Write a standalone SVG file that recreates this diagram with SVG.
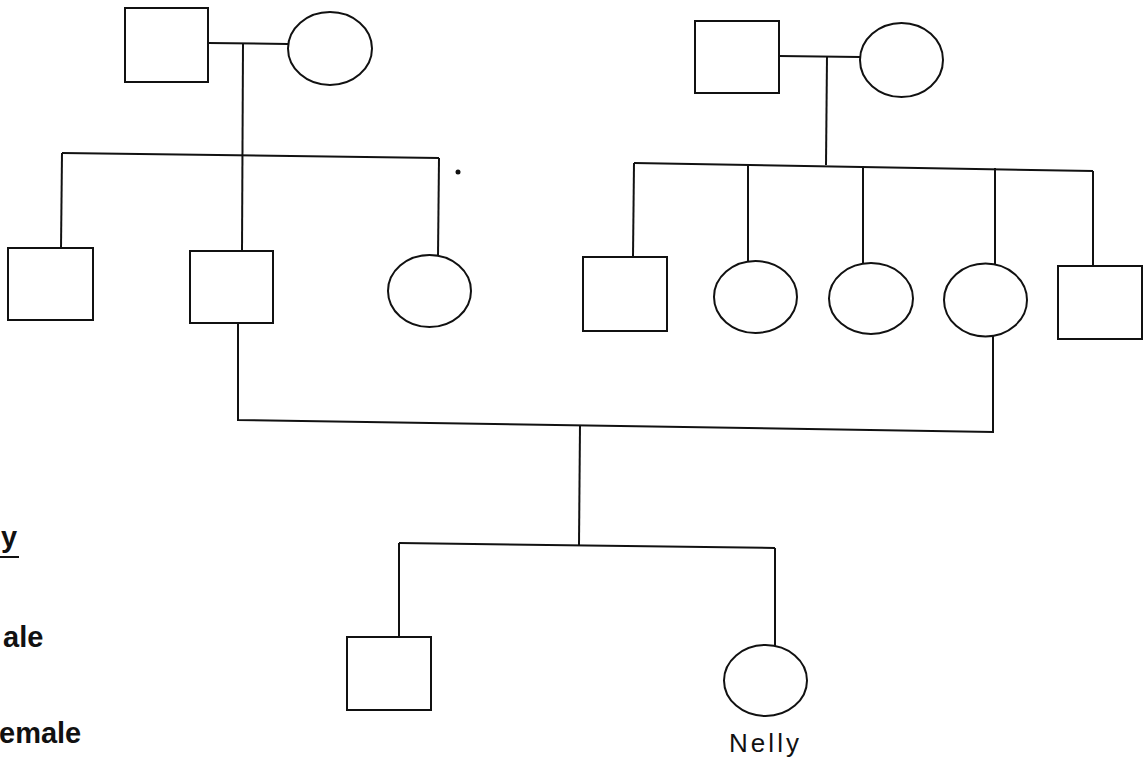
<svg xmlns="http://www.w3.org/2000/svg" width="1143" height="764" viewBox="0 0 1143 764">
<style>
.n{fill:#fff;stroke:#111;stroke-width:2}
.c{fill:none;stroke:#111;stroke-width:2}
.k{font-family:"Liberation Sans",Arial,sans-serif;font-weight:bold;font-size:29px;fill:#111}
.lbl{font-family:"Liberation Sans",Arial,sans-serif;font-size:26px;fill:#111}
</style>
<rect width="1143" height="764" fill="#fff"/>
<g id="connectors">
<path class="c" d="M208 43 L288 44"/>
<path class="c" d="M243 43 L242 251"/>
<path class="c" d="M62 153 L439 158"/>
<path class="c" d="M62 153 L61 248"/>
<path class="c" d="M439 158 L438 256"/>
<path class="c" d="M779 56 L860 57"/>
<path class="c" d="M827 56 L826 165"/>
<path class="c" d="M634 163 L1093 171"/>
<path class="c" d="M634 163 L633 257"/>
<path class="c" d="M748 164 L748 261"/>
<path class="c" d="M863 166 L863 263"/>
<path class="c" d="M995 168 L995 264"/>
<path class="c" d="M1093 171 L1093 266"/>
<path class="c" d="M238 323 L238 420 L993 432 L993 336"/>
<path class="c" d="M580 425 L579 545"/>
<path class="c" d="M399 543 L775 548"/>
<path class="c" d="M399 543 L399 637"/>
<path class="c" d="M775 548 L775 646"/>
</g>
<g id="g1-left-father"><rect class="n" x="125" y="8" width="83" height="74"/></g>
<g id="g1-left-mother"><ellipse class="n" cx="330" cy="48.5" rx="42" ry="36.5"/></g>
<g id="g1-right-father"><rect class="n" x="695" y="21" width="84" height="72"/></g>
<g id="g1-right-mother"><ellipse class="n" cx="901.5" cy="60" rx="41.5" ry="37"/></g>
<g id="g2-l1"><rect class="n" x="8" y="248" width="85" height="72"/></g>
<g id="g2-l2"><rect class="n" x="190" y="251" width="83" height="72"/></g>
<g id="g2-l3"><ellipse class="n" cx="429.5" cy="291" rx="41.5" ry="36"/></g>
<g id="g2-r1"><rect class="n" x="583" y="257" width="84" height="74"/></g>
<g id="g2-r2"><ellipse class="n" cx="755.5" cy="297" rx="41.5" ry="36"/></g>
<g id="g2-r3"><ellipse class="n" cx="871" cy="298.5" rx="42" ry="35.5"/></g>
<g id="g2-r4"><ellipse class="n" cx="985.5" cy="300" rx="41.5" ry="36.5"/></g>
<g id="g2-r5"><rect class="n" x="1058" y="266" width="84" height="73"/></g>
<g id="g3-son"><rect class="n" x="347" y="637" width="84" height="73"/></g>
<g id="g3-nelly"><ellipse class="n" cx="765.5" cy="680.5" rx="41.5" ry="35.5"/>
<text class="lbl" x="729" y="752" textLength="70" lengthAdjust="spacing">Nelly</text></g>
<g id="key">
<text class="k" x="1" y="547">y</text>
<line x1="0" y1="557" x2="19" y2="557" stroke="#111" stroke-width="2"/>
<text class="k" x="3" y="647">ale</text>
<text class="k" x="-1" y="743">emale</text>
</g>
<circle cx="458" cy="172" r="2.5" fill="#111"/>
</svg>
